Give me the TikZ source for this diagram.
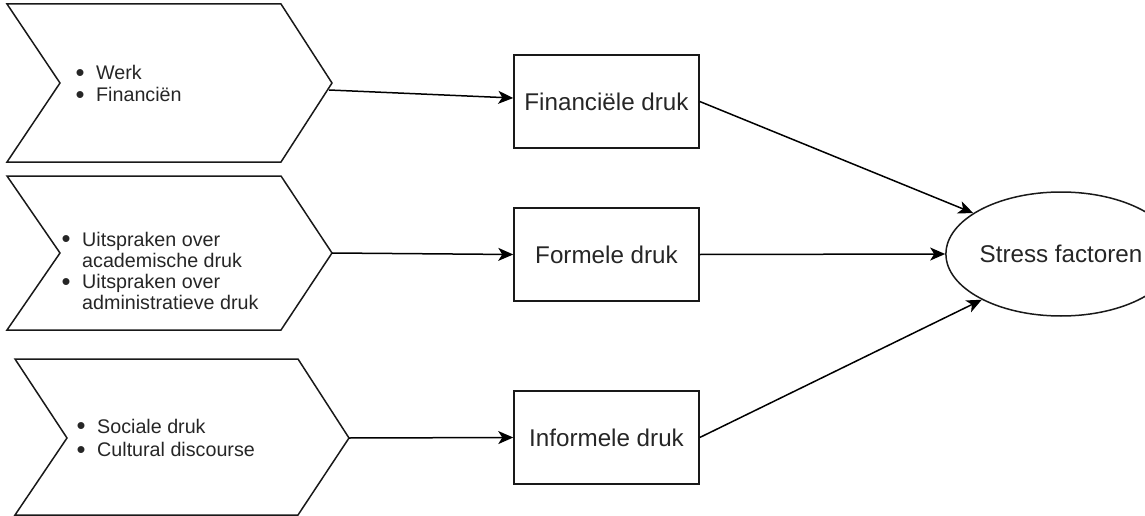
\documentclass[tikz,border=0pt]{standalone}
\usepackage{fontspec}
\setmainfont{Liberation Sans}
\usetikzlibrary{arrows.meta,shapes.geometric,calc}
\newcommand\blt{\makebox[20pt][l]{\hspace{-0.5pt}\raisebox{-1.6pt}{\scalebox{1.3}{\textbullet}}}}
\begin{document}
\begin{tikzpicture}[x=1pt,y=-1pt,
  shapeline/.style={draw=black!90, line width=1.5pt, line join=miter},
  box/.style={shapeline, rectangle, minimum width=185pt, minimum height=93pt, inner sep=0pt, text=black!85, font=\fontsize{24.2}{29}\selectfont},
  oval/.style={shapeline, ellipse, minimum width=180pt, minimum height=124pt, inner sep=0pt, text=black!85, font=\fontsize{24.2}{29}\selectfont},
  list/.style={anchor=base west, inner sep=0pt, text=black!85},
  conn/.style={draw=black, line width=1.5pt, -{Stealth[length=15pt,width=13pt,inset=4pt]}}]
\useasboundingbox (0,0) rectangle (1145,516);
% chevrons
\draw[shapeline] (7,4) -- (281,4) -- (332,83) -- (281,162) -- (7,162) -- (60,83) -- cycle;
\draw[shapeline] (7,176) -- (281,176) -- (332,253) -- (281,330) -- (7,330) -- (60,253) -- cycle;
\draw[shapeline] (15,359) -- (298,359) -- (349,438) -- (298,515) -- (15,515) -- (67,438) -- cycle;
\coordinate (c1out) at (329,90);
\coordinate (c2tip) at (332,253);
\coordinate (c3tip) at (349,438);
% lists
\node[list, font=\fontsize{19.7}{21.7}\selectfont] (t1) at (76,80)
  {\begin{tabular}[t]{@{}l@{}l@{}}\blt & Werk\\ \blt & Financiën\end{tabular}};
\node[list, font=\fontsize{19.7}{21.2}\selectfont] (t2) at (62,246)
  {\begin{tabular}[t]{@{}l@{}l@{}}\blt & Uitspraken over\\ & academische druk\\ \blt & Uitspraken over\\ & administratieve druk\end{tabular}};
\node[list, font=\fontsize{19.7}{23.4}\selectfont] (t3) at (77,433)
  {\begin{tabular}[t]{@{}l@{}l@{}}\blt & Sociale druk\\ \blt & Cultural discourse\end{tabular}};
% boxes
\node[box] (b1) at (606.5,101.5) {Financiële druk};
\node[box] (b2) at (606.5,254.5) {Formele druk};
\node[box] (b3) at (606.5,437.5) {Informele druk};
% ellipse
\node[oval] (e) at (1061,254) {Stress factoren};
% connectors
\draw[conn] (c1out) -- ($(b1.west)+(0,-3.5)$);
\draw[conn] (c2tip) -- (b2.west);
\draw[conn] (c3tip) -- (b3.west);
\draw[conn] (b1.east) -- (e.155);
\draw[conn] (b2.east) -- (e.west);
\draw[conn] (b3.east) -- (e.210);
\end{tikzpicture}
\end{document}
